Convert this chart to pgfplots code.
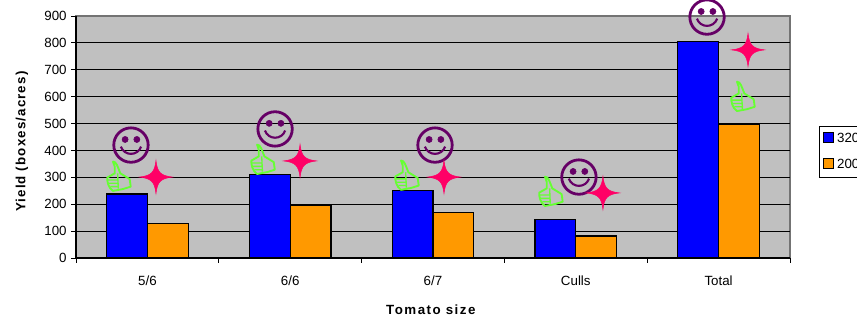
\documentclass[border=0pt]{standalone}
\usepackage{fontspec}
\setmainfont{Liberation Sans}
\usepackage{pgfplots}
\pgfplotsset{compat=1.18}
\definecolor{bgc}{HTML}{C0C0C0}
\definecolor{bluec}{HTML}{0000FF}
\definecolor{orangec}{HTML}{FF9900}
\definecolor{smc}{HTML}{660066}
\definecolor{stc}{HTML}{FF0066}
\definecolor{thc}{HTML}{66FF33}
\pgfdeclareplotmark{smiley}{%
  \draw[smc,line width=2.1pt,fill=none] (0pt,0pt) circle[radius=12.9pt];
  \fill[smc] (-4.4pt,4.2pt) circle[radius=2.3pt];
  \fill[smc] (4.4pt,4.2pt) circle[radius=2.3pt];
  \draw[smc,line width=1.6pt] (-7.6pt,-1.2pt) .. controls (-5pt,-8.4pt) and (5pt,-8.4pt) .. (7.6pt,-1.2pt);
}
\pgfdeclareplotmark{fourstar}{%
  \fill[stc] (0pt,12.4pt) .. controls (1pt,3.5pt) and (3.5pt,1pt) .. (12.4pt,0pt)
    .. controls (3.5pt,-1pt) and (1pt,-3.5pt) .. (0pt,-12.4pt)
    .. controls (-1pt,-3.5pt) and (-3.5pt,-1pt) .. (-12.4pt,0pt)
    .. controls (-3.5pt,1pt) and (-1pt,3.5pt) .. (0pt,12.4pt) -- cycle;
}
\pgfdeclareplotmark{thumb}{%
  \draw[thc,line width=1.4pt,line join=round,fill=none]
    (-4.5pt,10.8pt) .. controls (-2pt,11pt) and (-1pt,7pt) .. (1pt,2pt)
    -- (8pt,-2.3pt) -- (8.8pt,-8pt) -- (3pt,-9.8pt) -- (-4.5pt,-11.2pt)
    .. controls (-8pt,-9pt) and (-9pt,-4pt) .. (-8.8pt,-1.2pt)
    -- (-3.2pt,2pt) -- (-3.2pt,7pt) -- cycle;
  \draw[thc,line width=1pt] (-8.6pt,-3pt) -- (-1pt,-3pt) (-8pt,-5.5pt) -- (-.5pt,-5.5pt) (-6.5pt,-8pt) -- (0pt,-8pt) (-1pt,2pt) -- (-.5pt,-9.5pt);
}
\newcommand{\legsq}[1]{\draw[black,line width=.8pt,#1] (0pt,-3.8pt) rectangle (7.5pt,3.7pt);}
\begin{document}
\begin{tikzpicture}
\path[use as bounding box] (0,0) rectangle (642.75pt,240pt);
\begin{axis}[
  at={(57pt,46.5pt)}, anchor=south west,
  scale only axis, width=535.5pt, height=181.5pt,
  clip=false,
  xmin=-0.5, xmax=4.5, ymin=0, ymax=900,
  axis lines=left, axis line style={-,black,line width=.8pt},
  axis background/.style={fill=bgc,draw=gray!90!black,line width=1.2pt},
  ybar, bar width=30.6pt, bar shift=0pt,
  xtick={0,1,2,3,4}, xticklabels={5/6,6/6,6/7,Culls,Total},
  minor xtick={-0.5,0.5,1.5,2.5,3.5,4.5},
  ytick={0,100,200,300,400,500,600,700,800},
  extra y ticks={900}, extra y tick style={grid=none},
  ymajorgrids, grid style={black,line width=.7pt},
  major x tick style={draw=none},
  minor tick length=3.5pt, major tick length=3.5pt,
  tick style={black,line width=.7pt},
  tick align=outside,
  ticklabel style={font=\fontsize{10}{12}\selectfont},
  xticklabel style={yshift=-6pt},
  /pgf/number format/assume math mode=true,
  xlabel={\addfontfeatures{LetterSpace=11}\textbf{Tomato size}},
  ylabel={\addfontfeatures{LetterSpace=8.5}\textbf{Yield (boxes/acres)}},
  xlabel style={font=\fontsize{10}{12}\selectfont,at={(axis description cs:0.498,-0.235)},anchor=base},
  ylabel style={font=\fontsize{10}{12}\selectfont,at={(axis description cs:-0.071,0.483)},anchor=base},
  legend style={at={(1.0406,0.545)},anchor=north west,draw=black,line width=.6pt,
    font=\fontsize{10}{12}\selectfont,inner sep=3pt,row sep=7pt,nodes={yshift=-1pt}},
  legend cell align=left,
]
\addplot[bar shift=-15.3pt,fill=bluec,draw=black,line width=.9pt,legend image code/.code={\legsq{fill=bluec}}] coordinates {(0,238) (1,310) (2,252) (3,143) (4,805)};
\addlegendentry{320}
\addplot[bar shift=15.3pt,fill=orangec,draw=black,line width=.9pt,legend image code/.code={\legsq{fill=orangec}}] coordinates {(0,128) (1,195) (2,170) (3,82) (4,495)};
\addlegendentry{200}
\addplot[forget plot,only marks,mark=smiley] coordinates {(-0.115,420) (0.894,480) (2.014,420) (3.022,301) (3.919,896)};
\addplot[forget plot,only marks,mark=fourstar] coordinates {(0.06,301) (1.069,361) (2.077,301) (3.19,242) (4.206,774)};
\addplot[forget plot,only marks,mark=thumb] coordinates {(-0.199,305) (0.81,368) (1.818,309) (2.826,249) (4.171,602)};
\end{axis}
\end{tikzpicture}
\end{document}
